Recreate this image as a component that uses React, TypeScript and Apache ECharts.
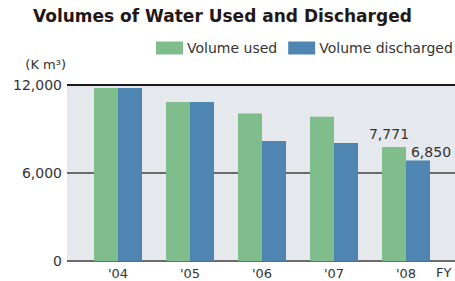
import React, { useEffect, useRef } from "react";
import * as echarts from "echarts";

const categories = ["'04", "'05", "'06", "'07", "'08"];
const volumeUsed = [11800, 10840, 10050, 9840, 7771];
const volumeDischarged = [11800, 10840, 8180, 8040, 6850];
const yTicks = [0, 6000, 12000];

const FONT = "'DejaVu Sans', 'Noto Sans', sans-serif";

export default function App() {
  const ref = useRef<HTMLDivElement>(null);
  useEffect(() => {
    if (!ref.current) return;
    const chart = echarts.init(ref.current, null, { renderer: "svg" });
    const last = categories.length - 1;
    chart.setOption({
      animation: false,
      textStyle: { fontFamily: FONT },
      title: {
        text: "Volumes of Water Used and Discharged",
        left: 33,
        top: 7,
        padding: 0,
        textStyle: { fontSize: 17, fontWeight: "bold", color: "#231815", fontFamily: FONT },
      },
      legend: {
        left: 156,
        top: 41,
        padding: 0,
        itemWidth: 27,
        itemHeight: 13,
        itemGap: 11,
        icon: "rect",
        textStyle: { fontSize: 14, color: "#333", padding: [0, 0, 0, -1] },
        data: ["Volume used", "Volume discharged"],
      },
      grid: [
        { left: 67, right: 0, top: 85, bottom: 20, show: true, backgroundColor: "#e5e9ed", borderWidth: 0 },
        { left: 82, right: 13, top: 85, bottom: 20 },
      ],
      xAxis: [
        { type: "value", gridIndex: 0, show: false, min: 0, max: 1 },
        {
          type: "category",
          gridIndex: 1,
          data: categories,
          axisLine: { show: false },
          axisTick: { show: false },
          axisLabel: { fontSize: 13, lineHeight: 13, color: "#333", margin: 6 },
        },
      ],
      yAxis: [
        {
          type: "value",
          gridIndex: 0,
          min: yTicks[0],
          max: yTicks[yTicks.length - 1],
          interval: yTicks[1] - yTicks[0],
          axisLine: { show: false },
          axisTick: { show: false },
          axisLabel: {
            fontSize: 14,
            color: "#333",
            margin: 5,
            formatter: (v: number) => v.toLocaleString("en-US"),
          },
          splitLine: { lineStyle: { color: ["#6b6b6b", "#6b6b6b", "#1a1a1a"], width: 2 } },
          name: "(K m³)",
          nameLocation: "end",
          nameGap: 14,
          nameTextStyle: { fontSize: 13, color: "#333", align: "right", padding: [0, 1, 0, 0] },
        },
        { type: "value", gridIndex: 1, min: 0, max: 12000, show: false },
      ],
      series: [
        {
          name: "Volume used",
          type: "bar",
          xAxisIndex: 1,
          yAxisIndex: 1,
          barWidth: 24,
          barGap: "0%",
          itemStyle: { color: "#7fbe8c" },
          data: volumeUsed.map((v, i) =>
            i === last
              ? {
                  value: v,
                  label: {
                    show: true,
                    position: "top",
                    distance: 6,
                    offset: [-5, 0],
                    fontSize: 14,
                    color: "#333",
                    formatter: (p: any) => p.value.toLocaleString("en-US"),
                  },
                }
              : v
          ),
        },
        {
          name: "Volume discharged",
          type: "bar",
          xAxisIndex: 1,
          yAxisIndex: 1,
          barWidth: 24,
          barGap: "0%",
          itemStyle: { color: "#4f86b1" },
          data: volumeDischarged.map((v, i) =>
            i === last
              ? {
                  value: v,
                  label: {
                    show: true,
                    position: "top",
                    distance: 2,
                    offset: [13, 0],
                    fontSize: 14,
                    color: "#333",
                    formatter: (p: any) => p.value.toLocaleString("en-US"),
                  },
                }
              : v
          ),
        },
      ],
      graphic: [
        {
          type: "text",
          left: 436,
          top: 266,
          style: { text: "FY", fontSize: 13, fill: "#333", fontFamily: FONT },
        },
      ],
    });
    return () => chart.dispose();
  }, []);
  return <div ref={ref} style={{ width: 455, height: 281, position: "absolute", left: 0, top: 0 }} />;
}
